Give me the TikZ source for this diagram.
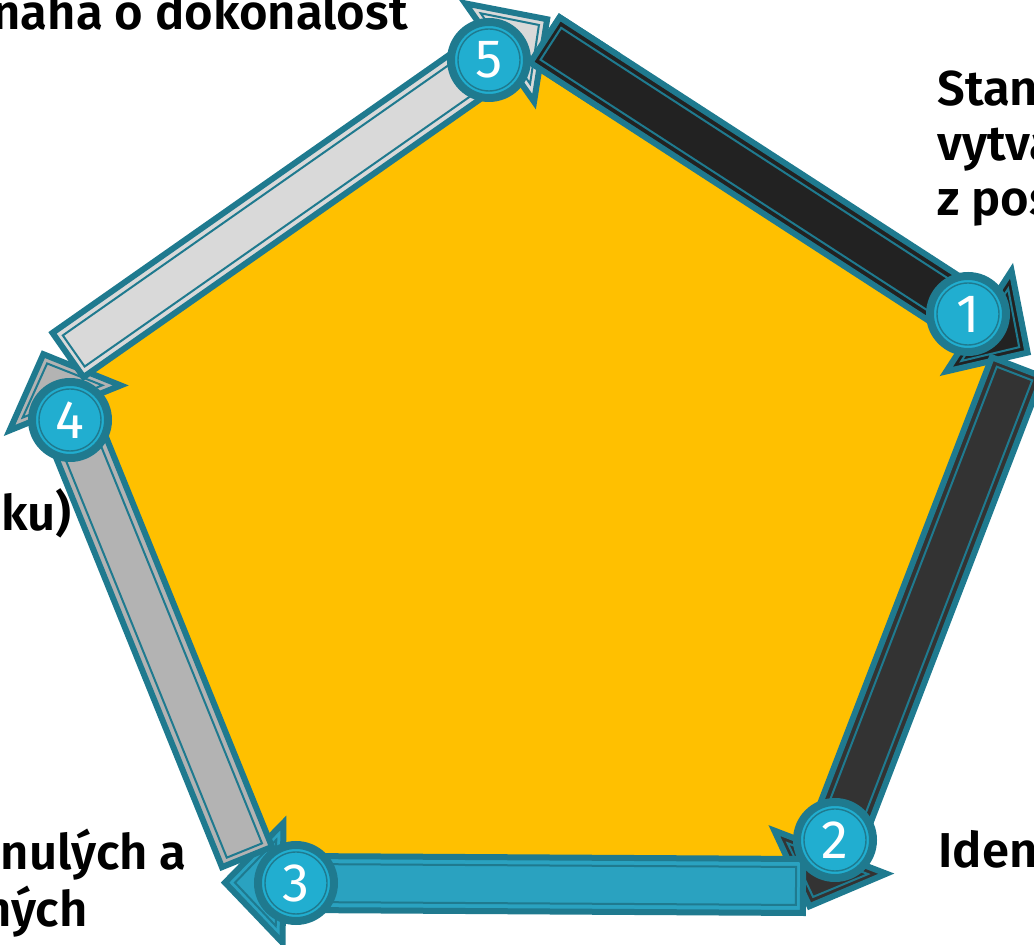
\documentclass[tikz,border=0pt]{standalone}
\usepackage{fontspec}
\setmainfont{Fira Sans}
\newfontfamily\labelfont{Fira Sans SemiBold}
\usetikzlibrary{calc, backgrounds}

\definecolor{edgeteal}{HTML}{1F7A8F}
\definecolor{discfill}{HTML}{21AED0}
\definecolor{goldfill}{HTML}{FFC000}
\definecolor{tealfill}{HTML}{2AA2C0}
\definecolor{darkfill}{HTML}{222222}
\definecolor{greyfill}{HTML}{333333}
\definecolor{midfill}{HTML}{B3B3B3}
\definecolor{palefill}{HTML}{D9D9D9}

% block arrow from a tail point to the disc it points at
\newcommand{\cyclearrow}[3]{%
	\coordinate (hb) at ($(#2.center)!-6.5pt!(#1)$);
	\coordinate (tp) at ($(#2.center)!-35.5pt!(#1)$);
	\filldraw[arrowedge, fill=#3]
		($(#1)!13.5pt!90:(hb)$) -- ($(hb)!13.5pt!-90:(#1)$) -- ($(hb)!30pt!-90:(#1)$) -- (tp)
		-- ($(hb)!30pt!90:(#1)$) -- ($(hb)!13.5pt!90:(#1)$) -- ($(#1)!13.5pt!-90:(hb)$) -- cycle;
	\coordinate (ti) at ($(#1)!3.5pt!(hb)$);
	\coordinate (hi) at ($(hb)!-3.5pt!(#1)$);
	\draw[arrowline]
		($(ti)!9.5pt!90:(hi)$) -- ($(hi)!9.5pt!-90:(ti)$) -- ($(hi)!21.5pt!-90:(ti)$) -- ($(tp)!5pt!(hb)$)
		-- ($(hi)!21.5pt!90:(ti)$) -- ($(hi)!9.5pt!90:(ti)$) -- ($(ti)!9.5pt!-90:(hi)$) -- cycle;
}

\begin{document}
\begin{tikzpicture}[x=0.5pt, y=-0.5pt,
		arrowedge/.style={draw=edgeteal, line width=3pt, line join=miter},
		arrowline/.style={draw=edgeteal, line width=1pt},
		numdisc/.style={circle, fill=discfill, draw=edgeteal, line width=4pt, minimum size=38pt,
			inner sep=0pt, text=white, font=\fontsize{27}{27}\selectfont,
			path picture={\draw[edgeteal, line width=0.7pt] (path picture bounding box.center) circle (15.5pt);}},
		steplabel/.style={inner sep=0pt, align=left, font=\labelfont\fontsize{24.5}{27.5}\selectfont}]
	
	\useasboundingbox (0,0) rectangle (1034,945);
	\clip (0,0) rectangle (1034,945);
	
	% ---------------------------------------------------------
	% Numbered discs on the corners
	% ---------------------------------------------------------
	\node[numdisc] (c1) at (968,314) {1};
	\node[numdisc] (c2) at (835,840) {2};
	\node[numdisc] (c3) at (296,883) {3};
	\node[numdisc] (c4) at (70,420) {4};
	\node[numdisc] (c5) at (489,60) {5};
	
	% tails of the arrows
	\coordinate (from5) at (545,40);
	\coordinate (from1) at (1017,367);
	\coordinate (from2) at (803,886);
	\coordinate (from3) at (247,857);
	\coordinate (from4) at (68,355);
	
	% ---------------------------------------------------------
	% Pentagon and arrows (behind the discs)
	% ---------------------------------------------------------
	\begin{scope}[on background layer]
		\clip (0,0) rectangle (1034,945);
		\fill[goldfill] (531.7,49.3) -- (1005.8,354.2) -- (807,871) -- (268.7,871) -- (71,371.2) -- cycle;
		
		\cyclearrow{from5}{c1}{darkfill}
		\cyclearrow{from1}{c2}{greyfill}
		\cyclearrow{from2}{c3}{tealfill}
		\cyclearrow{from3}{c4}{midfill}
		\cyclearrow{from4}{c5}{palefill}
		
		% tail of the first arrow lies over the last head
		\begin{scope}
			\clip (520,0) rectangle (620,110);
			\cyclearrow{from5}{c1}{darkfill}
		\end{scope}
	\end{scope}
	
	% ---------------------------------------------------------
	% Labels (cut by the page edge)
	% ---------------------------------------------------------
	\node[steplabel, anchor=base west] (lbl1) at (937,216) {Standardizace\\vytváření\\z postupů};
	\node[steplabel, anchor=base west] (lbl2) at (938,868) {Identifikace};
	\node[steplabel, anchor=base east] (lbl3a) at (187,870) {Poučení z minulých a};
	\node[steplabel, anchor=base east] (lbl3b) at (88,927) {současných};
	\node[steplabel, anchor=base east] (lbl4) at (72,531) {(krok po kroku)};
	\node[steplabel, anchor=base east] (lbl5) at (408,30) {Snaha o dokonalost};
	
\end{tikzpicture}
\end{document}
